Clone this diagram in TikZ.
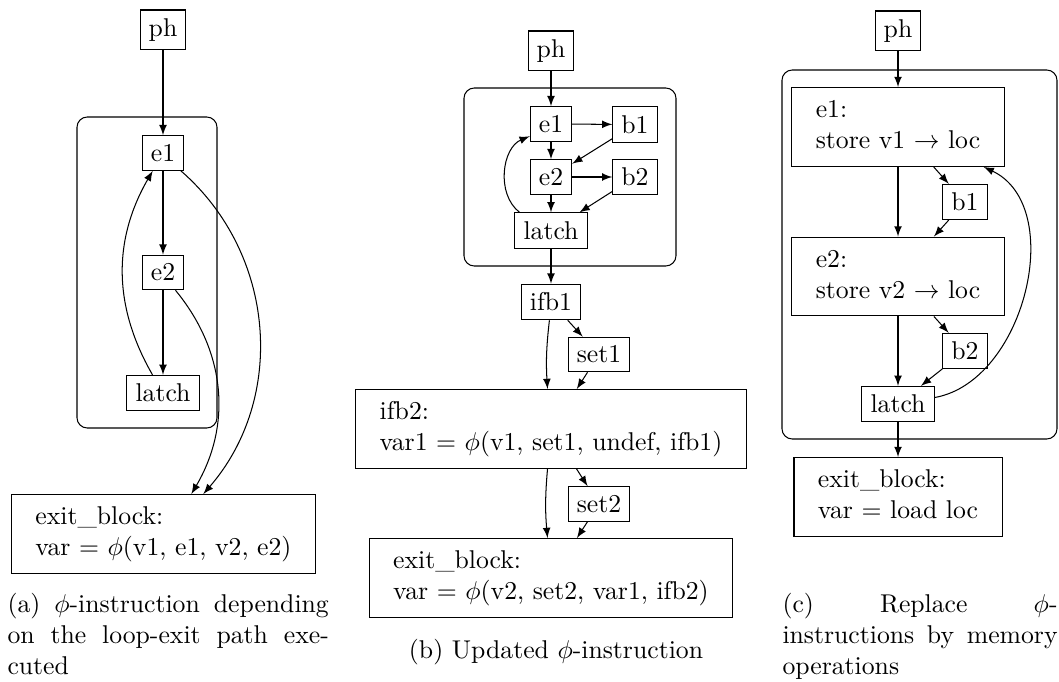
\documentclass[tikz,border=0pt]{standalone}
\newcommand{\blocktext}[2]{\begin{tabular}{l}#1\\#2\end{tabular}}
\begin{document}
\begin{tikzpicture}[x=0.389pt,y=-0.389pt,
  blk/.style={draw},
  subcap/.style={anchor=base west,inner sep=0pt,align=justify}]
  \useasboundingbox (0,0) rectangle (1059,682);
  % (a) phi depending on the exit path
  \draw[rounded corners] (77,117) rectangle (217,428);
  \node[blk] (phA) at (163,30) {ph};
  \node[blk] (e1A) at (163,153) {e1};
  \node[blk] (e2A) at (163,272.5) {e2};
  \node[blk] (latchA) at (163,393) {latch};
  \node[blk] (exitA) at (163.5,534) {\blocktext{exit\_block:}{var = $\phi$(v1, e1, v2, e2)}};
  \foreach \s/\t in {phA/e1A,e1A/e2A,e2A/latchA}
  {\draw[-latex] (\s) -- (\t);}
  \draw[-latex] (latchA) to[bend left=30] (e1A);
  \draw[-latex] (e1A) to[bend left=45] (exitA);
  \draw[-latex] (e2A) to[bend left=35] (exitA);
  \node[subcap,text width=125pt] (capA) at (7,612.5) {(a) $\phi$-instruction depending\linebreak on the loop-exit path exe-\linebreak cuted};
  % (b) updated phi
  \draw[rounded corners] (464,88) rectangle (676,266);
  \node[blk] (phB) at (551,51) {ph};
  \node[blk] (e1B) at (551,124) {e1};
  \node[blk] (b1B) at (635,124.5) {b1};
  \node[blk] (e2B) at (551,177) {e2};
  \node[blk] (b2B) at (635,177) {b2};
  \node[blk] (latchB) at (551,230.5) {latch};
  \node[blk] (ifb1B) at (551,302) {ifb1};
  \node[blk] (set1B) at (599,354.5) {set1};
  \node[blk] (ifb2B) at (551,429) {\blocktext{ifb2:}{var1 = $\phi$(v1, set1, undef, ifb1)}};
  \node[blk] (set2B) at (599,504) {set2};
  \node[blk] (exitB) at (551,578) {\blocktext{exit\_block:}{var = $\phi$(v2, set2, var1, ifb2)}};
  \foreach \s/\t in {phB/e1B,e1B/b1B,b1B/e2B,e1B/e2B,e2B/b2B,b2B/latchB,e2B/latchB,
    latchB/ifb1B,ifb1B/set1B,set1B/ifb2B,ifb2B/set2B,set2B/exitB}
  {\draw[-latex] (\s) -- (\t);}
  \draw[-latex] (latchB) to[bend left=60] (e1B);
  \draw[-latex] (ifb1B) to[bend right=5] (ifb2B);
  \draw[-latex] (ifb2B) to[bend right=5] (exitB);
  \node[anchor=base,inner sep=0pt] (capB) at (556,658) {(b) Updated $\phi$-instruction};
  % (c) memory operations
  \draw[rounded corners] (782,70) rectangle (1057,439);
  \node[blk] (phC) at (898,31) {ph};
  \node[blk] (e1C) at (898,127) {\blocktext{e1:}{store v1 $\rightarrow$ loc}};
  \node[blk] (b1C) at (965,202) {b1};
  \node[blk] (e2C) at (898,276.5) {\blocktext{e2:}{store v2 $\rightarrow$ loc}};
  \node[blk] (b2C) at (965,351) {b2};
  \node[blk] (latchC) at (898,404) {latch};
  \node[blk] (exitC) at (898,497) {\blocktext{exit\_block:}{var = load loc}};
  \foreach \s/\t in {phC/e1C,e1C/b1C,b1C/e2C,e1C/e2C,e2C/b2C,b2C/latchC,e2C/latchC,latchC/exitC}
  {\draw[-latex] (\s) -- (\t);}
  \draw[-latex] (latchC) to[out=10,in=-25] (e1C);
  \node[subcap,text width=107pt] (capC) at (782,612.5) {(c) Replace $\phi$-\linebreak instructions by memory\linebreak operations};
\end{tikzpicture}
\end{document}
